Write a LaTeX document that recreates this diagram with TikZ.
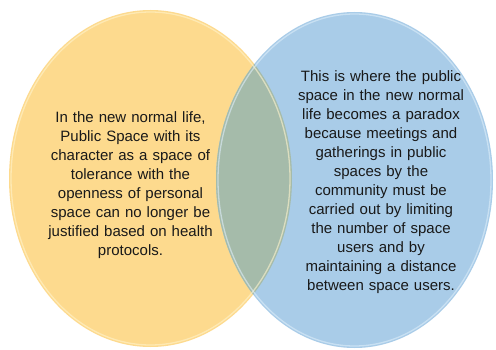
\documentclass[tikz,border=0pt]{standalone}
\usepackage{fontspec}
\setmainfont{Liberation Sans}
\definecolor{sunny}{RGB}{253,218,142}
\definecolor{sunnyrim}{RGB}{255,244,205}
\definecolor{sky}{RGB}{169,204,232}
\definecolor{skyrim}{RGB}{222,238,250}
\definecolor{sage}{RGB}{165,187,170}
\definecolor{textdark}{RGB}{25,25,25}
\begin{document}
\begin{tikzpicture}[x=1pt,y=1pt,
  venntext/.style={text width=#1, align=center, inner sep=0pt, anchor=base,
    text=textdark, font=\fontsize{15}{19}\selectfont},
  rim/.style={line width=1.3pt, draw opacity=0.6}
]
\useasboundingbox (0,0) rectangle (496,349);
\fill[white] (0,0) rectangle (496,349);

% the two circles of the diagram
\fill[sunny] (150.5,170.5) ellipse [x radius=141.5, y radius=168.5];
\fill[sky] (354.5,169) ellipse [x radius=138.5, y radius=168];
% their shared lens
\begin{scope}
  \clip (150.5,170.5) ellipse [x radius=141.5, y radius=168.5];
  \fill[sage] (354.5,169) ellipse [x radius=138.5, y radius=168];
\end{scope}

% glossy rims
\draw[rim, sunnyrim] (150.5,170.5) ellipse [x radius=139.5, y radius=166.5];
\draw[rim, skyrim] (354.5,169) ellipse [x radius=136.5, y radius=166];

% texts
\node[venntext=190pt] (lefttext) at (130.5,226) {In the new normal life,\\
Public Space with its\\
character as a space of\\
tolerance with the\\
openness of personal\\
space can no longer be\\
justified based on health\\
protocols.};
\node[venntext=195pt] (righttext) at (381,267) {This is where the public\\
space in the new normal\\
life becomes a paradox\\
because meetings and\\
gatherings in public\\
spaces by the\\
community must be\\
carried out by limiting\\
the number of space\\
users and by\\
maintaining a distance\\
between space users.};
\end{tikzpicture}
\end{document}
